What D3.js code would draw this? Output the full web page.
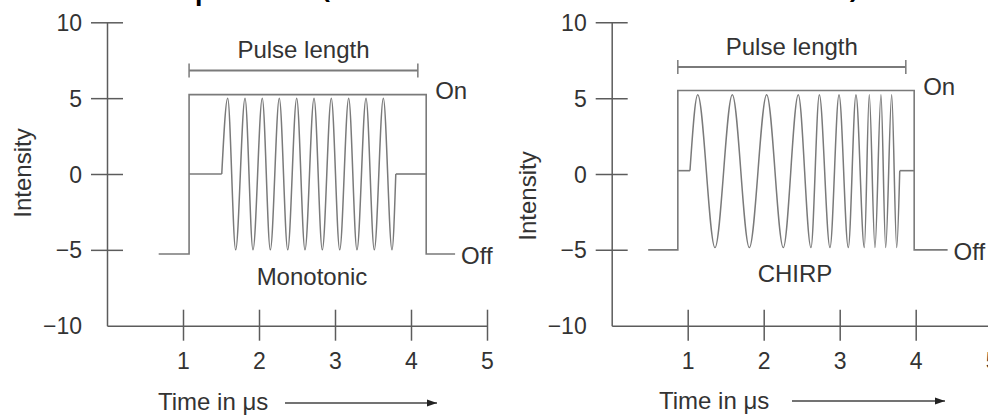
<!DOCTYPE html>
<html>
<head>
<meta charset="utf-8">
<script src="https://cdn.jsdelivr.net/npm/d3@7"></script>
<style>
  body { margin: 0; background: #fff; }
  svg { display: block; }
</style>
</head>
<body>
<div id="viz"></div>
<script>
// values: time in µs, intensity in arbitrary units
var xTicks = [1, 2, 3, 4, 5],
    yTicks = [-10, -5, 0, 5, 10],
    panelNames = ["Monotonic", "CHIRP"],
    titleText = "Radar pulse (monotonic versus CHIRP)";

// on/off gate of each pulse
var monoGateTime = [0.68, 1.08, 1.08, 4.20, 4.20, 4.58],
    monoGateLevel = [-5.27, -5.27, 5.23, 5.23, -5.27, -5.27],
    chirpGateTime = [0.48, 0.87, 0.87, 3.98, 3.98, 4.42],
    chirpGateLevel = [-5.0, -5.0, 5.5, 5.5, -5.0, -5.0];

// flat carrier before / after the oscillation
var monoLeadTime = [1.08, 1.51],
    monoTailTime = [3.80, 4.20],
    monoBase = 0,
    chirpLeadTime = [0.87, 1.03],
    chirpTailTime = [3.79, 3.98],
    chirpBase = 0.22;

// crests and troughs of the carrier
var monoPeaks = [1.588, 1.816, 2.043, 2.267, 2.496, 2.724, 2.951, 3.180, 3.408, 3.636],
    monoTroughs = [1.693, 1.921, 2.149, 2.378, 2.605, 2.833, 3.062, 3.289, 3.517, 3.750],
    monoPeakLevel = 5.0,
    monoTroughLevel = -5.0,
    chirpPeaks = [1.132, 1.587, 2.039, 2.455, 2.732, 2.991, 3.214, 3.389, 3.543, 3.684],
    chirpTroughs = [1.359, 1.811, 2.258, 2.622, 2.872, 3.113, 3.324, 3.464, 3.605, 3.750],
    chirpPeakLevel = 5.22,
    chirpTroughLevel = -4.85;

// "Pulse length" bracket: [start, end] and its level
var monoPulse = [1.08, 4.09], monoPulseLevel = 6.83,
    chirpPulse = [0.87, 3.87], chirpPulseLevel = 7.05;

var width = 988, height = 415,
    fontFamily = '"Liberation Sans", Arial, sans-serif',
    textColor = '#333',
    axisColor = '#5c5c5c',
    lineColor = '#7a7a7a';

var layout = [
    { x0: 107,   intensityY: 173, nameX: 312, nameY: 285, timeX: 158, arrow: [285, 437], timeY: 410, arrowY: 403 },
    { x0: 611.7, intensityY: 196, nameX: 795, nameY: 282, timeX: 659, arrow: [792, 945], timeY: 409, arrowY: 401 }
];

var panels = [
    { gateT: monoGateTime, gateV: monoGateLevel, lead: monoLeadTime, tail: monoTailTime, base: monoBase,
      peaks: monoPeaks, troughs: monoTroughs, hi: monoPeakLevel, lo: monoTroughLevel,
      pulse: monoPulse, pulseLevel: monoPulseLevel },
    { gateT: chirpGateTime, gateV: chirpGateLevel, lead: chirpLeadTime, tail: chirpTailTime, base: chirpBase,
      peaks: chirpPeaks, troughs: chirpTroughs, hi: chirpPeakLevel, lo: chirpTroughLevel,
      pulse: chirpPulse, pulseLevel: chirpPulseLevel }
];

var svg = d3.select('#viz').append('svg')
    .attr('width', width)
    .attr('height', height);

svg.append('defs').append('marker')
    .attr('id', 'arrowhead')
    .attr('viewBox', '0 0 10 10')
    .attr('refX', 10).attr('refY', 5)
    .attr('markerWidth', 14).attr('markerHeight', 10)
    .attr('markerUnits', 'userSpaceOnUse')
    .attr('orient', 'auto')
    .append('path')
    .attr('d', 'M0,1.5 L10,5 L0,8.5 Z')
    .attr('fill', '#222');

var yScale = d3.scaleLinear().domain([-10, 10]).range([325.7, 22.3]);

panels.forEach(function(p, i) {
    var L = layout[i];
    var xScale = d3.scaleLinear().domain([0, 5]).range([L.x0, L.x0 + 380]);
    var g = svg.append('g');

    // y axis, ticks cross the line
    var yAxis = g.append('g')
        .attr('transform', 'translate(' + L.x0 + ',0)')
        .call(d3.axisLeft(yScale).tickValues(yTicks).tickSize(0).tickSizeOuter(0)
            .tickFormat(function(d) { return d < 0 ? '\u2212' + Math.abs(d) : d; }));
    yAxis.select('.domain').attr('stroke', axisColor).attr('stroke-width', 1.5);
    yAxis.selectAll('.tick line')
        .attr('x1', -16).attr('x2', 16)
        .attr('stroke', axisColor).attr('stroke-width', 1.5)
        .attr('display', function(d) { return d === -10 ? 'none' : null; });
    yAxis.selectAll('.tick text')
        .attr('x', -25).attr('dy', '0.35em')
        .attr('fill', textColor)
        .style('font-family', fontFamily).style('font-size', '23px');

    // x axis
    var xAxis = g.append('g')
        .attr('transform', 'translate(0,' + yScale(-10) + ')')
        .call(d3.axisBottom(xScale).tickValues(xTicks).tickSize(0).tickSizeOuter(0)
            .tickFormat(d3.format('d')));
    xAxis.select('.domain').attr('stroke', axisColor).attr('stroke-width', 1.5);
    xAxis.selectAll('.tick line')
        .attr('y1', -16).attr('y2', 15)
        .attr('stroke', axisColor).attr('stroke-width', 1.5);
    xAxis.selectAll('.tick text')
        .attr('y', 35).attr('dy', '0.35em')
        .attr('fill', textColor)
        .style('font-family', fontFamily).style('font-size', '23px');

    var linear = d3.line()
        .x(function(d) { return xScale(d[0]); })
        .y(function(d) { return yScale(d[1]); });

    // gate
    g.append('path')
        .datum(d3.zip(p.gateT, p.gateV))
        .attr('d', linear)
        .attr('fill', 'none').attr('stroke', lineColor).attr('stroke-width', 1.6);

    // carrier: flat lead, oscillation, flat tail
    var wave = [[p.lead[1], p.base]];
    p.peaks.forEach(function(t, k) {
        wave.push([t, p.hi]);
        wave.push([p.troughs[k], p.lo]);
    });
    wave.push([p.tail[0], p.base]);

    g.append('path')
        .datum(p.lead.map(function(t) { return [t, p.base]; }))
        .attr('d', linear)
        .attr('fill', 'none').attr('stroke', lineColor).attr('stroke-width', 1.6);
    g.append('path')
        .datum(p.tail.map(function(t) { return [t, p.base]; }))
        .attr('d', linear)
        .attr('fill', 'none').attr('stroke', lineColor).attr('stroke-width', 1.6);
    g.append('path')
        .datum(wave)
        .attr('d', linear.curve(d3.curveMonotoneX))
        .attr('fill', 'none').attr('stroke', lineColor).attr('stroke-width', 1.5);
    linear.curve(d3.curveLinear);

    // pulse length bracket
    var by = yScale(p.pulseLevel);
    g.append('line')
        .attr('x1', xScale(p.pulse[0])).attr('x2', xScale(p.pulse[1]))
        .attr('y1', by).attr('y2', by)
        .attr('stroke', lineColor).attr('stroke-width', 2);
    g.selectAll('.cap').data(p.pulse).enter().append('line')
        .attr('x1', function(d) { return xScale(d); })
        .attr('x2', function(d) { return xScale(d); })
        .attr('y1', by - 7).attr('y2', by + 7)
        .attr('stroke', lineColor).attr('stroke-width', 1.5);
    g.append('text')
        .attr('x', (xScale(p.pulse[0]) + xScale(p.pulse[1])) / 2)
        .attr('y', by - 12)
        .attr('text-anchor', 'middle')
        .text('Pulse length');

    // On / Off
    var n = p.gateT.length;
    g.append('text')
        .attr('x', xScale(p.gateT[3]) + 9)
        .attr('y', yScale(p.gateV[3]) - 4)
        .attr('dy', '0.35em')
        .text('On');
    g.append('text')
        .attr('x', xScale(p.gateT[n - 1]) + 6)
        .attr('y', yScale(p.gateV[n - 1]) + 2)
        .attr('dy', '0.35em')
        .text('Off');

    g.append('text')
        .attr('x', L.nameX).attr('y', L.nameY)
        .attr('text-anchor', 'middle')
        .text(panelNames[i]);

    g.append('text')
        .attr('transform', 'translate(' + (L.x0 - 84) + ',' + L.intensityY + ') rotate(-90)')
        .attr('text-anchor', 'middle')
        .attr('dy', '0.35em')
        .text('Intensity');

    g.append('text')
        .attr('x', L.timeX).attr('y', L.timeY)
        .text('Time in \u03bcs');
    g.append('line')
        .attr('x1', L.arrow[0]).attr('x2', L.arrow[1])
        .attr('y1', L.arrowY).attr('y2', L.arrowY)
        .attr('stroke', '#444').attr('stroke-width', 1.3)
        .attr('marker-end', 'url(#arrowhead)');

    g.selectAll('text:not(.tick text)')
        .attr('fill', textColor)
        .style('font-family', fontFamily)
        .style('font-size', '24px');
});

// title sits mostly above the frame, only its descenders show
var title = svg.append('text')
    .attr('fill', '#000')
    .style('font-family', '"Open Sans", sans-serif')
    .style('font-size', '40px')
    .text(titleText);
var tn = title.node(),
    pX = tn.getStartPositionOfChar(titleText.indexOf('p')).x,
    cX = tn.getStartPositionOfChar(titleText.indexOf(')')).x,
    k = (853 - 197) / (cX - pX),
    fs = 40 * k;
title.style('font-size', fs + 'px')
    .attr('x', 197 - pX * k - 0.09 * fs)
    .attr('y', 6 - 0.24 * fs);
</script>
</body>
</html>
